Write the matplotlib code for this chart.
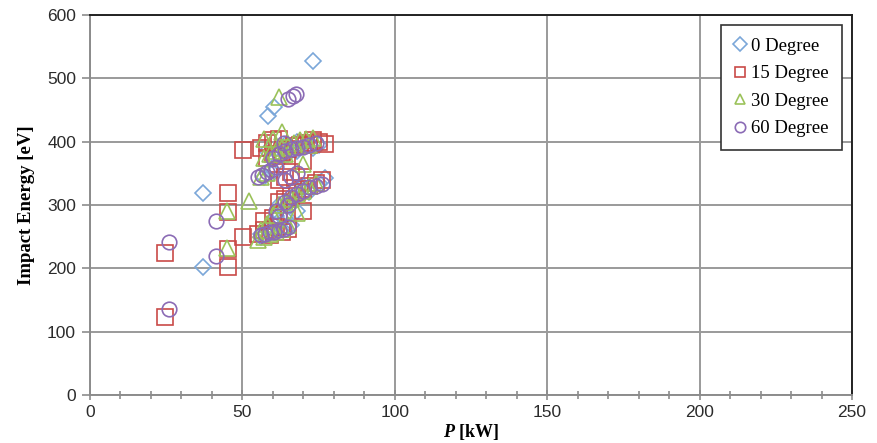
import matplotlib
matplotlib.use("Agg")
import matplotlib.pyplot as plt
from matplotlib.ticker import MultipleLocator

plt.rcParams['mathtext.fontset'] = 'custom'
plt.rcParams['mathtext.bfit'] = 'Liberation Serif:bold:italic'
plt.rcParams['mathtext.bf'] = 'Liberation Serif:bold'

# impact energy [eV] vs power P [kW] for each incidence angle
p_0 = [37, 37, 58.5, 60.5, 73,
       56, 58, 60, 62, 64, 66, 68, 57, 60, 62, 65, 68, 70, 72, 75, 77,
       62, 66, 70, 73, 75, 58, 64, 68, 61, 56, 59, 63, 66]
e_0 = [319, 202, 440, 455, 527,
       255, 262, 270, 275, 280, 268, 290, 345, 350, 370, 380, 385, 330, 320, 335, 343,
       300, 310, 325, 390, 395, 385, 395, 400, 283, 250, 258, 262, 300]

p_15 = [24.6, 24.6, 45.3, 45.3, 45.3, 45.3, 50.2, 50.2,
        55, 57, 59, 61, 63, 65, 57, 60, 62, 58, 60, 62, 56, 58, 61, 63, 65, 67, 69,
        71, 73, 75, 77, 62, 64, 66, 68, 70, 72, 74, 76, 70, 72, 60, 64, 66, 70, 62]
e_15 = [123, 224, 319, 289, 230, 202, 249, 387,
        255, 260, 252, 265, 258, 262, 275, 280, 285, 398, 402, 405, 390, 375, 378, 383, 388, 393, 395,
        398, 403, 400, 396, 305, 310, 315, 320, 325, 330, 335, 340, 290, 395, 380, 345, 352, 370, 340]

p_30 = [52.2, 45, 45, 63, 62, 60, 57,
        55, 57, 59, 61, 63, 65, 56, 58, 60, 57, 59, 61, 63, 65, 67, 69, 71, 73,
        56, 58, 62, 64, 66, 68, 70, 72, 74, 64, 70, 72, 68]
e_30 = [306, 290, 232, 415, 470, 405, 405,
        245, 250, 255, 258, 262, 268, 260, 270, 285, 375, 380, 385, 390, 393, 398, 402, 404, 406,
        345, 350, 300, 305, 310, 318, 322, 330, 335, 380, 365, 395, 288]

p_60 = [26, 26, 41.5, 41.5, 65, 66.5, 67.5, 63.5,
        56, 57.5, 59, 60.5, 62, 63.5, 65, 55, 56.5, 58, 59.5, 61, 64, 66, 68,
        60, 62, 64, 66, 68, 70, 72, 74, 64, 66, 68, 70, 72, 74, 76, 61, 65, 62]
e_60 = [241, 136, 275, 220, 468, 472, 476, 398,
        252, 255, 257, 258, 260, 262, 265, 345, 348, 352, 355, 360, 340, 345, 350,
        375, 380, 385, 388, 390, 392, 395, 398, 305, 312, 318, 322, 328, 330, 333, 290, 300, 282]

series = [
    (p_0, e_0, '0 Degree', 'D', '#7BA7D9', 8.5),
    (p_15, e_15, '15 Degree', 's', '#C94A48', 11),
    (p_30, e_30, '30 Degree', '^', '#9BC25A', 11),
    (p_60, e_60, '60 Degree', 'o', '#8B6BB5', 10.5),
]

fig = plt.figure(figsize=(8.77, 4.43), dpi=100)
ax = fig.add_axes([0.1026, 0.1084, 0.869, 0.8576])

for p, e, name, mk, col, ms in series:
    ax.plot(p, e, linestyle='none', marker=mk, markersize=ms,
            markerfacecolor='none', markeredgecolor=col, markeredgewidth=1.2,
            label=name)

ax.set_xlim(0, 250)
ax.set_ylim(0, 600)
ax.xaxis.set_major_locator(MultipleLocator(50))
ax.xaxis.set_minor_locator(MultipleLocator(10))
ax.yaxis.set_major_locator(MultipleLocator(100))
ax.grid(True, which='major', color='#9a9a9a', linewidth=1.4)
ax.set_axisbelow(True)

for side in ['left', 'bottom']:
    ax.spines[side].set_color('#8c8c8c')
    ax.spines[side].set_linewidth(1.4)
for side in ['top', 'right']:
    ax.spines[side].set_color('#222222')
    ax.spines[side].set_linewidth(1.4)

ax.tick_params(axis='x', which='both', direction='inout', length=7, color='#8c8c8c', width=1.2)
ax.tick_params(axis='x', which='minor', length=6)
ax.tick_params(axis='y', which='major', direction='out', length=6, color='#8c8c8c', width=1.2)
ax.tick_params(axis='both', labelsize=12.5, labelcolor='#2b2b2b', pad=4)
for lbl in ax.get_xticklabels() + ax.get_yticklabels():
    lbl.set_fontfamily('Liberation Sans')

ax.set_xlabel(r'$\mathbfit{P}$ [kW]', fontfamily='Liberation Serif', fontweight='bold',
              fontsize=13)
ax.xaxis.set_label_coords(0.5, -0.072)
ax.set_ylabel('Impact Energy [eV]', fontfamily='Liberation Serif', fontweight='bold',
              fontsize=13.5)
ax.yaxis.set_label_coords(-0.072, 0.5)

leg = ax.legend(loc='upper right', bbox_to_anchor=(0.987, 0.975), frameon=True,
                fancybox=False, edgecolor='#333333', framealpha=1,
                prop={'family': 'Liberation Serif', 'size': 13.5},
                handlelength=0.6, handletextpad=0.3, labelspacing=0.55,
                borderpad=0.7, borderaxespad=0)
leg.get_frame().set_linewidth(1.2)
for h in leg.legend_handles:
    h.set_markersize(7.5)

fig.savefig('out.png', dpi=100)
